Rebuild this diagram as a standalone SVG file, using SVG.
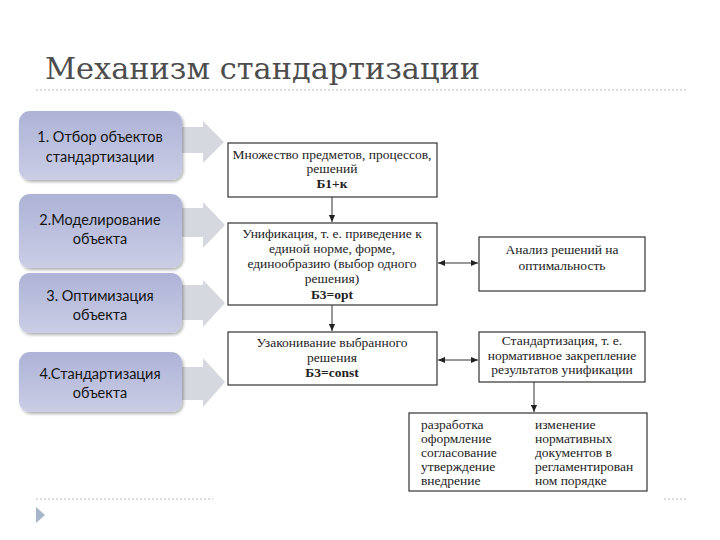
<svg xmlns="http://www.w3.org/2000/svg" width="720" height="540" viewBox="0 0 720 540">
<defs>
<linearGradient id="lg" x1="0" y1="0" x2="0" y2="1">
<stop offset="0" stop-color="#aeb3d7"/>
<stop offset="1" stop-color="#cacde5"/>
</linearGradient>
<filter id="sh" x="-10%" y="-10%" width="125%" height="130%">
<feDropShadow dx="1.5" dy="2" stdDeviation="1.8" flood-color="#000" flood-opacity="0.3"/>
</filter>
<marker id="ah" viewBox="0 0 8 8" refX="8" refY="4" markerWidth="7" markerHeight="7" orient="auto-start-reverse" markerUnits="userSpaceOnUse">
<path d="M0,0.5 L8,4 L0,7.5 Z" fill="#222"/>
</marker>
<style>
.lb{fill:url(#lg);filter:url(#sh)}
.lt{font-family:Lato,"Open Sans",sans-serif;font-size:14.5px;fill:#151515;text-anchor:middle}
.ga{fill:#d6d8df}
.rb{fill:#fff;stroke:#333;stroke-width:1.2}
.rt{font-family:"Liberation Serif","Times New Roman",serif;font-size:13.5px;fill:#222;text-anchor:middle}
.ft{font-family:"Liberation Serif","Times New Roman",serif;font-size:13.5px;fill:#222}
.b{font-weight:bold}
.cn{stroke:#333;stroke-width:1;fill:none}
</style>
</defs>
<rect width="720" height="540" fill="#fff"/>
<g id="title">
<text x="45" y="79" font-family="'DejaVu Serif','Liberation Serif',serif" font-size="29" fill="#4d4d4d" textLength="435" lengthAdjust="spacingAndGlyphs">Механизм стандартизации</text>
<line x1="36" y1="90" x2="686" y2="90" stroke="#bbb" stroke-width="1.2" stroke-dasharray="2,2"/>
</g>
<g id="gray-arrows">
<polygon class="ga" points="176,127 203,127 203,121 224,142 203,163 203,153 176,153"/>
<polygon class="ga" points="176,208 203,208 203,202 225,225 203,248 203,237 176,237"/>
<polygon class="ga" points="176,285 203,285 203,280 225,303 203,327 203,320 176,320"/>
<polygon class="ga" points="176,367 203,367 203,358 225,382 203,407 203,400 176,400"/>
</g>
<g id="step1"><rect class="lb" x="19" y="111" width="163" height="69" rx="11"/>
<text class="lt" x="100" y="142">1. Отбор объектов</text><text class="lt" x="100" y="162">стандартизации</text></g>
<g id="step2"><rect class="lb" x="19" y="194" width="163" height="74" rx="11"/>
<text class="lt" x="100" y="225">2.Моделирование</text><text class="lt" x="100" y="244">объекта</text></g>
<g id="step3"><rect class="lb" x="19" y="273" width="163" height="60" rx="11"/>
<text class="lt" x="100" y="301">3. Оптимизация</text><text class="lt" x="100" y="320">объекта</text></g>
<g id="step4"><rect class="lb" x="19" y="352" width="163" height="60" rx="11"/>
<text class="lt" x="100" y="379">4.Стандартизация</text><text class="lt" x="100" y="398">объекта</text></g>
<g id="boxA"><rect class="rb" x="228" y="143" width="209" height="54"/>
<text class="rt" x="332" y="159">Множество предметов, процессов,</text>
<text class="rt" x="332" y="173">решений</text>
<text class="rt b" x="332" y="188">Б1+к</text></g>
<g id="boxB"><rect class="rb" x="228" y="223" width="209" height="82"/>
<text class="rt" x="332" y="238">Унификация, т. е. приведение к</text>
<text class="rt" x="332" y="253">единой норме, форме,</text>
<text class="rt" x="332" y="268">единообразию (выбор одного</text>
<text class="rt" x="332" y="283">решения)</text>
<text class="rt b" x="332" y="299">Б3=opt</text></g>
<g id="boxC"><rect class="rb" x="228" y="332" width="209" height="53"/>
<text class="rt" x="332" y="347">Узаконивание выбранного</text>
<text class="rt" x="332" y="362">решения</text>
<text class="rt b" x="332" y="377">Б3=const</text></g>
<g id="boxD"><rect class="rb" x="479" y="237" width="166" height="54"/>
<text class="rt" x="562" y="254">Анализ решений на</text>
<text class="rt" x="562" y="270">оптимальность</text></g>
<g id="boxE"><rect class="rb" x="479" y="332" width="166" height="50"/>
<text class="rt" x="562" y="345">Стандартизация, т. е.</text>
<text class="rt" x="562" y="360">нормативное закрепление</text>
<text class="rt" x="562" y="374">результатов унификации</text></g>
<g id="boxF"><rect class="rb" x="409" y="413" width="238" height="78"/>
<text class="ft" x="421" y="429">разработка</text>
<text class="ft" x="421" y="443">оформление</text>
<text class="ft" x="421" y="457">согласование</text>
<text class="ft" x="421" y="471">утверждение</text>
<text class="ft" x="421" y="485">внедрение</text>
<text class="ft" x="535" y="429">изменение</text>
<text class="ft" x="535" y="443">нормативных</text>
<text class="ft" x="535" y="457">документов в</text>
<text class="ft" x="535" y="471">регламентирован</text>
<text class="ft" x="535" y="485">ном порядке</text></g>
<g id="connectors">
<line class="cn" x1="332" y1="197" x2="332" y2="222" marker-end="url(#ah)"/>
<line class="cn" x1="332" y1="305" x2="332" y2="331" marker-end="url(#ah)"/>
<line class="cn" x1="438" y1="263" x2="478" y2="263" marker-start="url(#ah)" marker-end="url(#ah)"/>
<line class="cn" x1="438" y1="360" x2="478" y2="360" marker-start="url(#ah)" marker-end="url(#ah)"/>
<line class="cn" x1="534" y1="382" x2="534" y2="412" marker-end="url(#ah)"/>
</g>
<g id="footer">
<line x1="36" y1="499" x2="213" y2="499" stroke="#bbb" stroke-width="1" stroke-dasharray="2,2"/>
<line x1="664" y1="499" x2="687" y2="499" stroke="#bbb" stroke-width="1" stroke-dasharray="2,2"/>
<polygon points="36,507 45,515 36,523" fill="#a7b6c9"/>
</g>
</svg>
